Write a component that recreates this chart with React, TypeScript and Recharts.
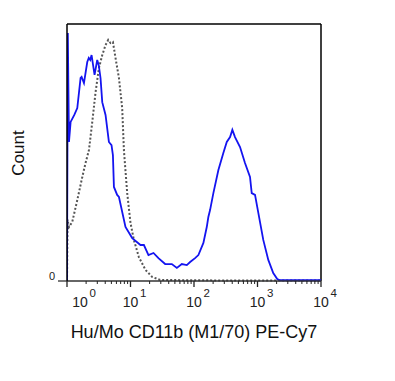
import React from 'react';
import { LineChart, Line, XAxis, YAxis, ReferenceLine } from 'recharts';

// x values are log10 of fluorescence (decade exponent), y values are % of max count
const stainedX = [0, 0.013, 0.031, 0.057, 0.115, 0.162, 0.214, 0.23, 0.267, 0.319, 0.343, 0.366, 0.387, 0.434, 0.476, 0.5, 0.528, 0.555, 0.607, 0.66, 0.701, 0.723, 0.739, 0.79, 0.818, 0.921, 1.027, 1.157, 1.211, 1.283, 1.362, 1.44, 1.546, 1.651, 1.73, 1.808, 1.887, 1.939, 2.017, 2.069, 2.148, 2.201, 2.226, 2.253, 2.305, 2.384, 2.462, 2.516, 2.568, 2.604, 2.646, 2.725, 2.803, 2.882, 2.909, 2.961, 3.013, 3.091, 3.17, 3.248, 3.311, 3.354, 4];
const stainedY = [0, 96.5, 54.1, 61.9, 64.6, 67.3, 79.0, 79.4, 77.0, 85.2, 86.8, 86.0, 87.9, 80.2, 86.0, 84.0, 79.0, 69.6, 64.6, 54.1, 52.9, 49.0, 36.6, 33.5, 32.7, 21.0, 16.7, 14.0, 14.0, 10.1, 10.9, 8.9, 6.6, 6.6, 5.1, 6.6, 6.2, 7.4, 8.9, 10.1, 14.8, 21.0, 24.9, 27.6, 34.2, 43.2, 49.8, 54.1, 56.0, 58.8, 56.0, 52.1, 45.9, 40.5, 34.2, 33.5, 26.5, 16.0, 8.2, 3.1, 0.8, 0.3, 0.3];

const isotypeX = [0, 0.008, 0.031, 0.083, 0.162, 0.241, 0.292, 0.346, 0.398, 0.45, 0.503, 0.555, 0.607, 0.649, 0.686, 0.723, 0.764, 0.818, 0.869, 0.896, 0.948, 1.0, 1.053, 1.132, 1.236, 1.341, 1.467, 2.5, 4];
const isotypeY = [0, 24.0, 21.0, 23.0, 31.5, 40.5, 45.9, 51.0, 61.9, 73.5, 82.9, 87.9, 91.8, 93.8, 92.6, 93.0, 86.8, 79.0, 67.3, 51.0, 34.2, 22.6, 16.0, 9.3, 4.3, 1.6, 0.4, 0.2, 0.2];

const decades = [0, 1, 2, 3, 4];
const minorSteps = [2, 3, 4, 5, 6, 7, 8, 9];

const stained = stainedX.map((e, i) => ({ e, y: stainedY[i] }));
const isotype = isotypeX.map((e, i) => ({ e, y: isotypeY[i] }));
const xTicks = [
  ...decades,
  ...decades.slice(0, -1).flatMap((d) => minorSteps.map((k) => d + Math.log10(k))),
].sort((a, b) => a - b);

const FONT = '"Liberation Sans", Arial, sans-serif';

const XTick = (props: any) => {
  const { x, y, payload } = props;
  const v = payload.value;
  const major = Math.abs(v - Math.round(v)) < 1e-6;
  if (!major) {
    return <line x1={x} x2={x} y1={y} y2={y + 3} stroke="#222" strokeWidth={1} />;
  }
  const cx = v === 0 ? x + 13 : x;
  return (
    <g>
      <line x1={x} x2={x} y1={y} y2={y + 6} stroke="#222" strokeWidth={1.3} />
      <text x={cx} y={y + 26} textAnchor="middle" fontSize={14} fill="#222" fontFamily={FONT}>10</text>
      <text x={cx + 9.5} y={y + 16} textAnchor="start" fontSize={11.5} fill="#222" fontFamily={FONT}>{Math.round(v)}</text>
    </g>
  );
};

const YTick = (props: any) => {
  const { x, y, payload } = props;
  return (
    <g>
      <line x1={x - 9} x2={x} y1={y} y2={y} stroke="#222" strokeWidth={1.2} />
      <text x={x - 12} y={y - 1} textAnchor="end" fontSize={11} fill="#222" fontFamily={FONT}>{payload.value}</text>
    </g>
  );
};

const XTitle = (props: any) => {
  const { viewBox } = props;
  return (
    <text x={viewBox.x + viewBox.width / 2} y={viewBox.y + viewBox.height + 27} textAnchor="middle" fontSize={18} fill="#111" fontFamily={FONT}>
      Hu/Mo CD11b (M1/70) PE-Cy7
    </text>
  );
};

const YTitle = () => (
  <text x={24} y={153} transform="rotate(-90, 24, 153)" textAnchor="middle" fontSize={17} fill="#111" fontFamily={FONT}>
    Count
  </text>
);

export default function App() {
  return (
    <div style={{ position: 'absolute', left: 0, top: 0, width: 395, height: 381, background: '#fff' }}>
      <LineChart width={395} height={381} margin={{ top: 24, right: 74, bottom: 70, left: 0 }}>
        <XAxis
          type="number"
          dataKey="e"
          domain={[0, 4]}
          ticks={xTicks}
          interval={0}
          allowDataOverflow
          height={30}
          tickSize={0}
          tickMargin={0}
          tickLine={false}
          tick={<XTick />}
          axisLine={{ stroke: '#333', strokeWidth: 1.5 }}
          label={<XTitle />}
        />
        <YAxis
          type="number"
          dataKey="y"
          domain={[0, 100]}
          ticks={[0]}
          width={67}
          tickSize={0}
          tickMargin={0}
          tickLine={false}
          tick={<YTick />}
          axisLine={{ stroke: '#000', strokeWidth: 1.5 }}
          label={<YTitle />}
        />
        <ReferenceLine y={100} stroke="#000" strokeWidth={1.5} />
        <ReferenceLine x={4} stroke="#000" strokeWidth={1.5} />
        <Line
          data={isotype}
          dataKey="y"
          type="linear"
          stroke="#555"
          strokeWidth={2}
          strokeDasharray="2 2"
          dot={false}
          isAnimationActive={false}
        />
        <Line
          data={stained}
          dataKey="y"
          type="linear"
          stroke="#1414f0"
          strokeWidth={1.8}
          dot={false}
          isAnimationActive={false}
        />
      </LineChart>
    </div>
  );
}
